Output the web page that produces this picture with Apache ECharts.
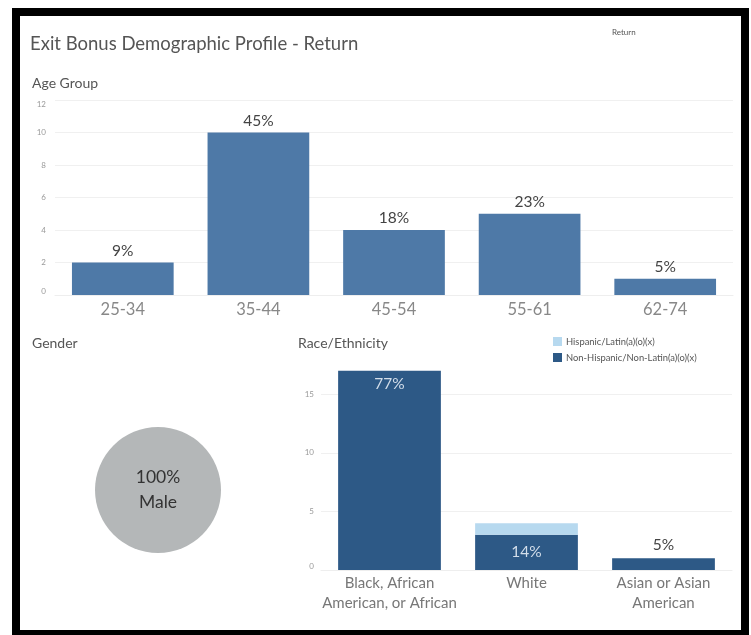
<!DOCTYPE html>
<html>
<head>
<meta charset="utf-8">
<script src="https://cdn.jsdelivr.net/npm/echarts@6/dist/echarts.min.js"></script>
<style>
  html, body { margin: 0; padding: 0; background: #ffffff; }
  #chart { width: 751px; height: 635px; }
</style>
</head>
<body>
<div id="chart"></div>
<script>
// Age group counts
const ageCategories = ['25-34', '35-44', '45-54', '55-61', '62-74'];
const ageCounts = [2, 10, 4, 5, 1];
const ageTicks = [0, 2, 4, 6, 8, 10, 12];

// Gender counts
const genderNames = ['Male'];
const genderCounts = [22];

// Race / ethnicity counts, split by Hispanic origin
const raceCategories = ['Black, African\nAmerican, or African', 'White', 'Asian or Asian\nAmerican'];
const raceHispanic = [0, 1, 0];
const raceNonHispanic = [17, 3, 1];
const raceTicks = [0, 5, 10, 15];

const FONT = 'Lato, "Open Sans", sans-serif';
const sum = a => a.reduce((s, v) => s + v, 0);
const ageTotal = sum(ageCounts);
const genderTotal = sum(genderCounts);
const raceTotal = sum(raceHispanic) + sum(raceNonHispanic);
const pct = (v, total) => Math.round(v / total * 100) + '%';

const chart = echarts.init(document.getElementById('chart'), null, { renderer: 'canvas' });

const headerText = (text, left, top, size) => ({
  text, left, top,
  padding: 0,
  textStyle: { fontFamily: FONT, fontSize: size, fontWeight: 'normal', color: '#555555' }
});

const option = {
  backgroundColor: '#ffffff',
  animation: false,
  title: [
    headerText('Exit Bonus Demographic Profile - Return', 30, 35, 18.5),
    headerText('Return', 612, 28, 8),
    headerText('Age Group', 32, 76, 14),
    headerText('Gender', 32, 336, 14),
    headerText('Race/Ethnicity', 298, 336, 14)
  ],
  legend: {
    data: ['Hispanic/Latin(a)(o)(x)', 'Non-Hispanic/Non-Latin(a)(o)(x)'],
    orient: 'vertical',
    left: 553,
    top: 337,
    padding: 0,
    itemWidth: 9,
    itemHeight: 9,
    itemGap: 7,
    icon: 'rect',
    selectedMode: false,
    textStyle: { fontFamily: FONT, fontSize: 9.4, color: '#555555', padding: [0, 0, 0, -1] }
  },
  grid: [
    { left: 55, width: 678, top: 100, height: 195 },
    { left: 321, width: 411, top: 365, height: 205 }
  ],
  xAxis: [
    {
      gridIndex: 0,
      type: 'category',
      data: ageCategories,
      axisLine: { lineStyle: { color: '#eeeeee' } },
      axisTick: { show: false },
      axisLabel: { interval: 0, fontFamily: FONT, fontSize: 16.5, color: '#888888', margin: 6 }
    },
    {
      gridIndex: 1,
      type: 'category',
      data: raceCategories,
      axisLine: { lineStyle: { color: '#eeeeee' } },
      axisTick: { show: false },
      axisLabel: { interval: 0, hideOverlap: false, fontFamily: FONT, fontSize: 15, color: '#777777', margin: 3, lineHeight: 20 }
    }
  ],
  yAxis: [
    {
      gridIndex: 0,
      type: 'value',
      min: ageTicks[0],
      max: ageTicks[ageTicks.length - 1],
      interval: ageTicks[1] - ageTicks[0],
      axisLine: { show: false },
      axisTick: { show: false },
      splitLine: { lineStyle: { color: '#f0f0f0' } },
      axisLabel: {
        fontFamily: FONT, fontSize: 8, color: '#999999', margin: 9,
        verticalAlignMinLabel: 'bottom', verticalAlignMaxLabel: 'top'
      }
    },
    {
      gridIndex: 1,
      type: 'value',
      min: raceTicks[0],
      max: 17.5,
      interval: raceTicks[1] - raceTicks[0],
      axisLine: { show: false },
      axisTick: { show: false },
      splitLine: { lineStyle: { color: '#f0f0f0' }, showMaxLine: false },
      axisLabel: {
        fontFamily: FONT, fontSize: 8, color: '#999999', margin: 7,
        showMaxLabel: false,
        verticalAlignMinLabel: 'bottom',
        formatter: v => (raceTicks.indexOf(v) >= 0 ? String(v) : '')
      }
    }
  ],
  series: [
    {
      name: 'Age Group',
      type: 'bar',
      xAxisIndex: 0,
      yAxisIndex: 0,
      data: ageCounts,
      barWidth: '75%',
      itemStyle: { color: '#4e79a7' },
      label: {
        show: true,
        position: 'top',
        distance: 4,
        fontFamily: FONT,
        fontSize: 15.5,
        color: '#444444',
        formatter: p => pct(p.value, ageTotal)
      },
      emphasis: { disabled: true }
    },
    {
      name: 'Non-Hispanic/Non-Latin(a)(o)(x)',
      type: 'bar',
      xAxisIndex: 1,
      yAxisIndex: 1,
      stack: 'race',
      data: raceNonHispanic.map(v => {
        // label sits inside the bar when it is tall enough, above it otherwise
        const tall = v >= 10;
        const mid = v >= 2 && v < 10;
        return {
          value: v,
          label: tall
            ? { position: 'insideTop', distance: 5, color: '#d3deea' }
            : mid
              ? { position: 'inside', color: '#d3deea' }
              : { position: 'top', distance: 5, color: '#444444' }
        };
      }),
      barWidth: '75%',
      itemStyle: { color: '#2d5986' },
      label: {
        show: true,
        fontFamily: FONT,
        fontSize: 15.5,
        formatter: p => pct(p.value, raceTotal)
      },
      emphasis: { disabled: true }
    },
    {
      name: 'Hispanic/Latin(a)(o)(x)',
      type: 'bar',
      xAxisIndex: 1,
      yAxisIndex: 1,
      stack: 'race',
      data: raceHispanic,
      barWidth: '75%',
      itemStyle: { color: '#b7d9ef' },
      emphasis: { disabled: true }
    },
    {
      name: 'Gender',
      type: 'pie',
      center: [158, 490],
      radius: 63,
      silent: true,
      startAngle: 90,
      itemStyle: { color: '#b4b7b8' },
      label: {
        show: true,
        position: 'center',
        fontFamily: FONT,
        fontSize: 17.5,
        lineHeight: 25,
        color: '#333333',
        formatter: p => pct(p.value, genderTotal) + '\n' + p.name
      },
      labelLine: { show: false },
      data: genderNames.map((n, i) => ({ name: n, value: genderCounts[i] }))
    }
  ],
  graphic: [
    {
      type: 'rect',
      silent: true,
      z: 100,
      shape: { x: 16, y: 12, width: 729, height: 622 },
      style: { fill: 'none', stroke: '#000000', lineWidth: 8 }
    }
  ]
};

chart.setOption(option);
</script>
</body>
</html>
